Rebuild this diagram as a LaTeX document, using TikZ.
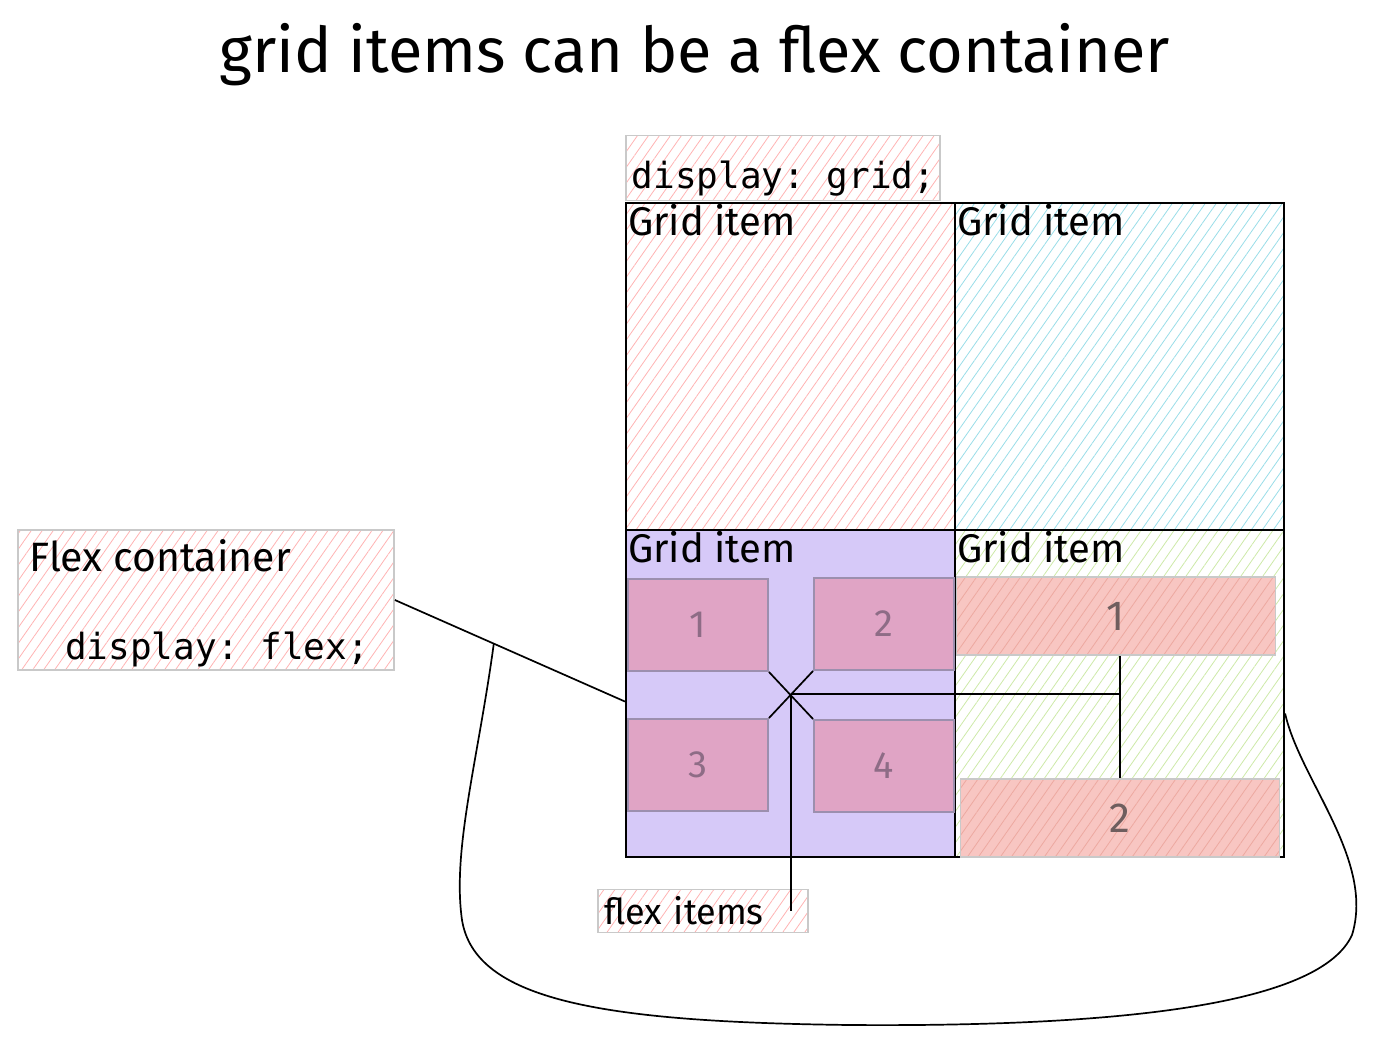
\documentclass[tikz,border=0pt]{standalone}
\usepackage{fontspec}
\setmainfont{Fira Sans}
\setmonofont{DejaVu Sans Mono}
\usetikzlibrary{positioning,patterns.meta}

\definecolor{hatchred}{HTML}{FFB3B3}
\definecolor{hatchcyan}{HTML}{99DDE8}
\definecolor{hatchgreen}{HTML}{CDE9A8}
\definecolor{lilac}{HTML}{D6C9F8}
\definecolor{flexpink}{HTML}{E0A4C5}
\definecolor{flexedge}{HTML}{9C8FAE}
\definecolor{flexnum}{HTML}{8E6C86}
\definecolor{salmon}{HTML}{F8C6C2}
\definecolor{salmonline}{HTML}{EDA9A0}
\definecolor{salmonnum}{HTML}{6F5E5E}
\definecolor{notegray}{HTML}{C9C9C9}

\tikzset{
  hatch/.style={pattern={Lines[angle=55,distance=9pt,line width=0.8pt]},pattern color=#1},
  cell/.style={draw=black,line width=2.2pt,minimum width=329pt,minimum height=327pt,inner sep=0pt},
  note/.style={draw=notegray,line width=1.8pt,hatch=hatchred,inner sep=0pt},
  hand/.style={font=\fontsize{40}{44}\selectfont,inner sep=0pt},
  code/.style={font=\ttfamily\fontsize{36}{40}\selectfont,inner sep=0pt},
  flexbox/.style={draw=flexedge,line width=1.8pt,fill=flexpink,minimum width=140pt,minimum height=92pt,text=flexnum,font=\fontsize{38}{42}\selectfont},
  rowbox/.style={draw=notegray,line width=1.8pt,preaction={fill=salmon},hatch=salmonline,minimum width=319pt,minimum height=78pt,text=salmonnum,font=\fontsize{42}{46}\selectfont},
  link/.style={draw=black,line width=1.7pt}
}

\begin{document}
\begin{tikzpicture}[x=1pt,y=-1pt]
\useasboundingbox (0,0) rectangle (1377,1046);

\node[font=\fontsize{63}{68}\selectfont] (title) at (695,55) {grid items can be a flex container};

% the grid container
\node[note,minimum width=314pt,minimum height=65pt] (gridcss) at (783,168) {};
\node[code,anchor=base west] (gridcsstxt) at ([xshift=6pt,yshift=-53pt]gridcss.north west) {display: grid;};
\node[cell,hatch=hatchred] (tl) at (790.5,366.5) {};
\node[cell,hatch=hatchcyan] (tr) at (1119.5,366.5) {};
\node[cell,fill=lilac] (bl) at (790.5,693.5) {};
\node[cell,hatch=hatchgreen] (br) at (1119.5,693.5) {};
\foreach \c in {tl,tr,bl,br}
  \node[hand,anchor=base west] (\c lbl) at ([xshift=3pt,yshift=-34pt]\c.north west) {Grid item};

% flex items, wrapping
\node[flexbox] (f1) at (698,625) {1};
\node[flexbox] (f2) at (884,624) {2};
\node[flexbox] (f3) at (698,765) {3};
\node[flexbox] (f4) at (884,766) {4};

% flex items, column
\node[rowbox] (r1) at (1116,616) {1};
\node[rowbox] (r2) at (1120,818) {2};

\node[note,font=\fontsize{36}{40}\selectfont,minimum height=43pt,text width=198pt,inner xsep=6pt,align=left] (fitems) at (703,911) {flex items};

\coordinate (hub) at (791,694);
\draw[link] (f1.south east) -- (f4.north west);
\draw[link] (f2.south west) -- (f3.north east);
\draw[link] (hub) -- (hub -| r2.north);
\draw[link] (r1.south -| r2.north) -- (r2.north);
\draw[link] (hub) -- (hub |- fitems.center);

% flex container note
\node[note,minimum width=376pt,minimum height=140pt] (fc) at (206,600) {};
\node[hand,font=\fontsize{41}{45}\selectfont,anchor=base west] (fctitle) at ([xshift=12pt,yshift=-42pt]fc.north west) {Flex container};
\node[code,anchor=base west] (fccss) at ([xshift=48pt,yshift=-130pt]fc.north west) {display: flex;};

\draw[link] (fc.east) -- coordinate[pos=0.43] (lassoA) ([yshift=-8pt]bl.west);
\draw[link] (lassoA) .. controls (478,760) and (452,850) .. (462,920)
  .. controls (475,1000) and (600,1022) .. (850,1025)
  .. controls (1120,1027) and (1320,1005) .. (1352,935)
  .. controls (1375,860) and (1300,780) .. ([yshift=-20pt]br.east);

\end{tikzpicture}
\end{document}
